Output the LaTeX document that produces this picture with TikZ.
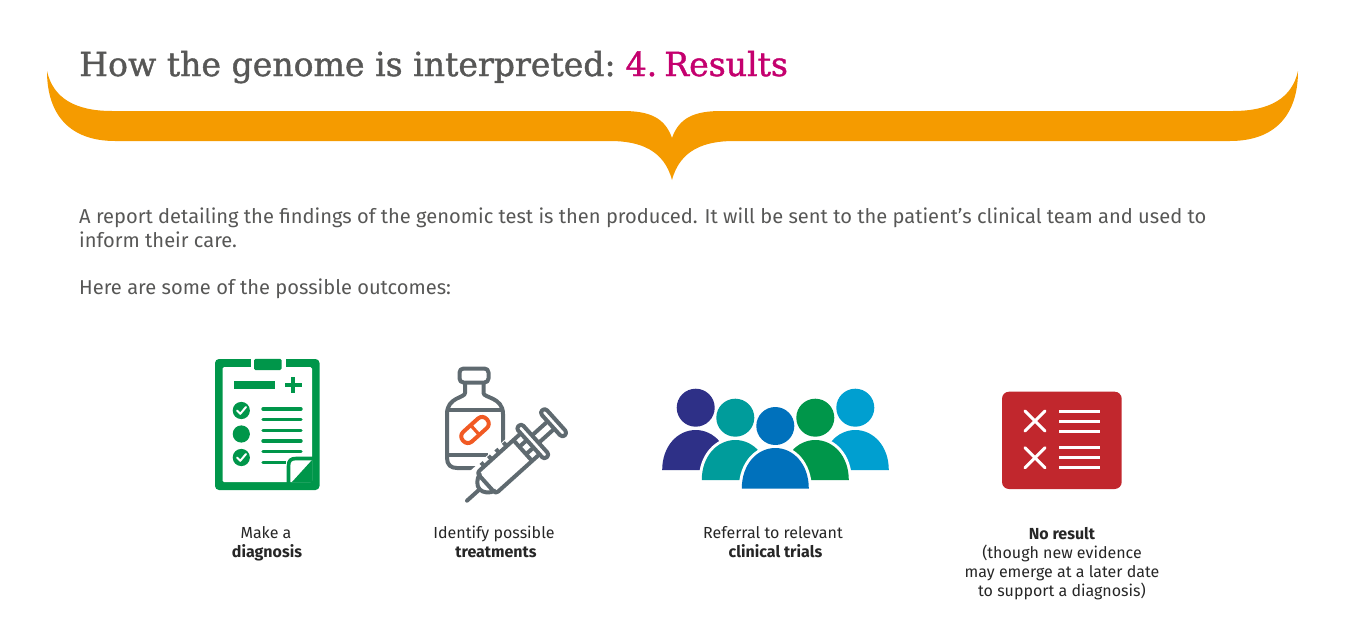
\documentclass[tikz,border=0pt]{standalone}
\usepackage{fontspec}
\setmainfont{Fira Sans}
\newfontfamily\titlefont[FakeBold=1.2]{DejaVu Serif}
\definecolor{bracecol}{HTML}{F59B00}
\definecolor{titlegrey}{HTML}{575756}
\definecolor{magentacol}{HTML}{C4006E}
\definecolor{cliptone}{HTML}{00964A}
\definecolor{bottlegrey}{HTML}{5F6A70}
\definecolor{pillcol}{HTML}{F15A24}
\definecolor{navycol}{HTML}{2E3087}
\definecolor{tealcol}{HTML}{009C9B}
\definecolor{bluecol}{HTML}{0071BC}
\definecolor{lightblue}{HTML}{009FD0}
\definecolor{redcol}{HTML}{C1272D}
\tikzset{
  x=1pt,y=-1pt,
  bodytext/.style={anchor=base west,inner sep=0pt,text=titlegrey,align=left,font=\fontsize{20.1}{24}\selectfont},
  labeltext/.style={anchor=base,inner sep=0pt,text=black!85,align=center,font=\fontsize{16}{19}\selectfont},
  greenline/.style={cliptone,line width=3.4pt,line cap=round},
  greyline/.style={bottlegrey,line width=4pt,line cap=round,line join=round},
  whiteline/.style={white,line width=3pt},
  person/.style={preaction={draw=white,line width=6pt}},
}
\newcommand{\personbody}[4]{% colour, centre x, top y, base y
  \fill[#1,person] (#2-33.5,#4) .. controls (#2-33.5,#3+16) and (#2-18,#3) .. (#2,#3)
     .. controls (#2+18,#3) and (#2+33.5,#3+16) .. (#2+33.5,#4) -- cycle;
}
\begin{document}
\begin{tikzpicture}
\useasboundingbox (0,0) rectangle (1345,640);
% brace
\fill[bracecol] (47,71) .. controls (53,98) and (75,111) .. (112,111)
  -- (623,111) .. controls (650,111) and (665,118) .. (672,138)
  .. controls (679,118) and (694,111) .. (721,111)
  -- (1233,111) .. controls (1270,111) and (1292,98) .. (1298,71)
  .. controls (1298,115) and (1275,141) .. (1230,141)
  -- (734,141) .. controls (704,141) and (680,150) .. (672,180)
  .. controls (664,150) and (640,141) .. (610,141)
  -- (115,141) .. controls (70,141) and (47,115) .. (47,71) -- cycle;
% texts
\node[anchor=base west,inner sep=0pt,text=titlegrey,font=\titlefont\fontsize{33.1}{36}\selectfont] (title) at (79,76) {How the genome is interpreted:\hspace{-4pt} \textcolor{magentacol}{4.\hspace{-7pt} Results}};
\node[bodytext] (intro) at (79,247) {A report detailing the findings of the genomic test is then produced. It will be sent to the patient’s clinical team and used to\\inform their care.};
\node[bodytext] (here) at (79,294) {Here are some of the possible outcomes:};
\node[labeltext] (l1) at (266,557) {Make a\\\hspace*{2pt}\textbf{diagnosis}};
\node[labeltext] (l2) at (494,557) {Identify possible\\\hspace*{4pt}\textbf{treatments}};
\node[labeltext] (l3) at (773,557) {Referral to relevant\\\hspace*{5pt}\textbf{clinical trials}};
\node[labeltext] (l4) at (1062,596) {\textbf{No result}\\(though new evidence\\may emerge at a later date\\to support a diagnosis)};
% clipboard
\fill[cliptone,rounded corners=4pt] (215,359) rectangle (319.5,490);
\fill[white,rounded corners=1.5pt] (222.5,367) rectangle (312,482);
\fill[white] (250.7,358) rectangle (285.7,368);
\fill[cliptone,rounded corners=1.5pt] (254,358.8) -- (281.7,358.8) -- (281.7,370) -- (254,370) -- cycle;
\fill[cliptone] (233.5,381) rectangle (274.5,388.5);
\fill[cliptone] (285,383) rectangle (301.5,386.8);
\fill[cliptone] (291.4,377) rectangle (295.2,393);
\foreach \yy in {409,419.7,430.3,441,451.7,462.3}{\draw[greenline] (263,\yy) -- (301,\yy);}
\fill[white] (286,456) rectangle (312,482);
\fill[cliptone] (292,482) -- (312,460) -- (312,482) -- cycle;
\draw[cliptone,line width=3.6pt] (288.5,483) -- (288.5,466) .. controls (288.5,460.5) and (291,458.5) .. (296,458.5) -- (313,458.5);
\foreach \yy in {410.5,457.5}{
  \fill[cliptone] (241.3,\yy) circle (8.6);
  \draw[white,line width=2pt,line cap=round,line join=round] (237,\yy) -- (240.3,\yy+3.3) -- (246,\yy-3.5);
}
\fill[cliptone] (241.3,434) circle (8.6);
% bottle
\draw[greyline,rounded corners=4pt] (459.5,368.5) rectangle (488.5,382.5);
\draw[greyline] (465,383) -- (465,393) .. controls (465,398) and (447,397) .. (447,414) -- (447,458)
  .. controls (447,465) and (451,468) .. (457,468) -- (488,468);
\draw[greyline] (483.5,383) -- (483.5,393) .. controls (483.5,398) and (503,397) .. (503,414) -- (503,445);
\draw[greyline,line cap=butt] (447,410) -- (503,410);
\draw[greyline,line cap=butt] (447,455) -- (488,455);
\begin{scope}[shift={(475,430)},rotate=42]
  \draw[pillcol,line width=4pt,rounded corners=6pt] (-16,-6.5) rectangle (16,6.5);
  \draw[pillcol,line width=3.2pt] (0,-6.5) -- (0,6.5);
\end{scope}
% syringe
\begin{scope}[shift={(467,500.7)},rotate=42]
  \fill[white] (17,-20) rectangle (90,20);
  \draw[greyline] (0,0) -- (18,0);
  \draw[greyline,fill=white] (27,-11) .. controls (22,-10) and (17,-5) .. (17,0) .. controls (17,5) and (22,10) .. (27,11);
  \draw[greyline,rounded corners=3pt] (88,-14) -- (26,-14) -- (26,14) -- (88,14);
  \draw[greyline,line cap=butt] (36,-14) -- (36,-19);
  \draw[greyline,line cap=butt] (46,-14) -- (46,-19);
  \draw[greyline,line cap=butt] (56,-14) -- (56,-19);
  \draw[greyline,line cap=butt] (66,-14) -- (66,-19);
  \draw[greyline,fill=white,rounded corners=3pt] (85,-21) rectangle (92,21);
  \draw[greyline,line cap=butt] (75,-14) -- (75,14);
  \draw[greyline,line cap=butt] (75,-5) -- (85,-5);
  \draw[greyline,line cap=butt] (75,5) -- (85,5);
  \draw[greyline,line cap=butt] (92,-5) -- (113,-5);
  \draw[greyline,line cap=butt] (92,5) -- (113,5);
  \draw[greyline,fill=white,rounded corners=3.5pt] (113,-17) rectangle (120,17);
\end{scope}
% people
\fill[navycol] (695.7,407.7) circle (19);
\fill[lightblue] (855.3,407.7) circle (19);
\personbody{navycol}{695.7}{430}{470}
\personbody{lightblue}{855.3}{430}{470}
\fill[tealcol,preaction={draw=white,line width=2pt}] (735.3,417.7) circle (19);
\fill[cliptone,preaction={draw=white,line width=2pt}] (815.3,417.7) circle (19);
\personbody{tealcol}{735.3}{440}{480}
\personbody{cliptone}{815.3}{440}{480}
\fill[bluecol,preaction={draw=white,line width=2pt}] (775.3,426) circle (19);
\personbody{bluecol}{775.3}{448}{488.5}
% red report
\fill[redcol,rounded corners=7pt] (1002,391.7) rectangle (1121.7,489);
\foreach \yy in {421,457.7}{
  \draw[whiteline,line cap=round] (1025,\yy-10) -- (1045,\yy+10);
  \draw[whiteline,line cap=round] (1025,\yy+10) -- (1045,\yy-10);
  \foreach \dd in {-10,0,10}{\draw[whiteline] (1059,\yy+\dd) -- (1100,\yy+\dd);}
}
\end{tikzpicture}
\end{document}
